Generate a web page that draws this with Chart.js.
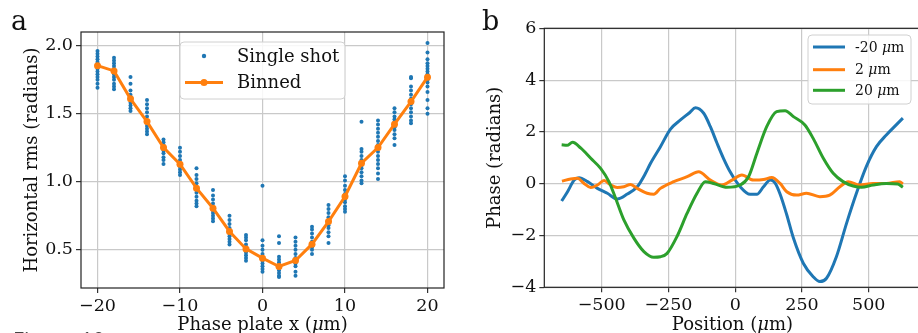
<!DOCTYPE html>
<html>
<head>
<meta charset="utf-8">
<script src="https://cdn.jsdelivr.net/npm/chart.js@4.4.0/dist/chart.umd.min.js"></script>
<style>
  html, body { margin: 0; padding: 0; background: #fff; overflow: hidden; width: 918px; height: 333px; }
  canvas { position: absolute; top: 0; }
  #left { left: 0; }
  #right { left: 460px; }
  #caption { position: absolute; left: 13px; top: 330px; font: 21px "Noto Sans"; line-height: 20px; color: #444; }
</style>
</head>
<body>
<canvas id="left" width="460" height="350"></canvas>
<canvas id="right" width="480" height="350"></canvas>
<div id="caption">Figure 10</div>
<script>
// ---- panel a: horizontal rms vs phase plate position ----
const plateX = [-20, -18, -16, -14, -12, -10, -8, -6, -4, -2, 0, 2, 4, 6, 8, 10, 12, 14, 16, 18, 20];
const binnedRms = [1.853, 1.814, 1.609, 1.442, 1.251, 1.129, 0.953, 0.806, 0.635, 0.507, 0.439,
                   0.378, 0.422, 0.542, 0.708, 0.892, 1.136, 1.251, 1.423, 1.589, 1.768];
// single-shot values, one list per plate position
const singleShots = [
  [1.96, 1.94, 1.92, 1.90, 1.88, 1.86, 1.85, 1.83, 1.81, 1.79, 1.77, 1.75, 1.72, 1.69],
  [1.91, 1.89, 1.87, 1.85, 1.83, 1.81, 1.79, 1.77, 1.75, 1.72, 1.70, 1.68],
  [1.77, 1.72, 1.67, 1.64, 1.62, 1.60, 1.58, 1.56, 1.54, 1.52],
  [1.60, 1.57, 1.54, 1.51, 1.48, 1.45, 1.43, 1.41, 1.39, 1.37, 1.35],
  [1.31, 1.29, 1.27, 1.25, 1.23, 1.21, 1.18, 1.16, 1.13],
  [1.25, 1.22, 1.19, 1.16, 1.13, 1.11, 1.09, 1.07, 1.05],
  [1.10, 1.05, 1.02, 0.99, 0.96, 0.94, 0.92, 0.89, 0.86, 0.84, 0.82],
  [0.94, 0.90, 0.87, 0.84, 0.81, 0.79, 0.77, 0.75, 0.73, 0.71],
  [0.75, 0.72, 0.69, 0.66, 0.64, 0.62, 0.60, 0.58, 0.56, 0.54],
  [0.61, 0.59, 0.57, 0.54, 0.52, 0.50, 0.48, 0.46, 0.44, 0.42],
  [0.97, 0.57, 0.53, 0.50, 0.47, 0.44, 0.42, 0.40, 0.38, 0.36, 0.34],
  [0.60, 0.55, 0.45, 0.43, 0.41, 0.39, 0.37, 0.35, 0.33, 0.31, 0.30],
  [0.59, 0.56, 0.53, 0.50, 0.47, 0.44, 0.42, 0.40, 0.38, 0.34, 0.31],
  [0.67, 0.65, 0.62, 0.59, 0.56, 0.54, 0.52, 0.50, 0.47],
  [0.83, 0.80, 0.77, 0.74, 0.72, 0.70, 0.68, 0.66, 0.63, 0.60, 0.55],
  [1.04, 1.01, 0.97, 0.94, 0.91, 0.89, 0.87, 0.85, 0.82, 0.80, 0.78],
  [1.44, 1.24, 1.22, 1.19, 1.16, 1.14, 1.12, 1.10, 1.07, 1.04, 1.01, 0.99],
  [1.45, 1.42, 1.39, 1.36, 1.33, 1.30, 1.27, 1.25, 1.22, 1.19, 1.16, 1.13, 1.10, 1.06, 1.02],
  [1.54, 1.51, 1.48, 1.46, 1.44, 1.42, 1.40, 1.38, 1.35, 1.32, 1.27],
  [1.77, 1.76, 1.70, 1.67, 1.64, 1.61, 1.59, 1.57, 1.54, 1.51, 1.48, 1.45, 1.43],
  [2.02, 1.95, 1.90, 1.87, 1.85, 1.83, 1.81, 1.79, 1.77, 1.75, 1.73, 1.70, 1.66, 1.60, 1.54, 1.50]
];
const ticksAx = [-20, -10, 0, 10, 20];
const ticksAy = [0.5, 1.0, 1.5, 2.0];

// ---- panel b: phase profiles ----
const posNeg20 = [-650, -628, -603, -585, -553, -516, -479, -442, -404, -367, -336, -317, -280, -243, -205, -170,
                  -149, -118, -93, -68, -44, -19, 19, 56, 81, 106, 131, 149, 168, 193, 218, 255, 292, 317, 342,
                  379, 417, 454, 491, 529, 566, 603, 628];
const phaseNeg20 = [-0.67, -0.31, 0.14, 0.23, 0.08, -0.18, -0.37, -0.59, -0.40, -0.12, 0.40, 0.79, 1.43, 2.10, 2.46, 2.75,
                    2.93, 2.72, 2.20, 1.56, 0.98, 0.46, -0.12, -0.41, -0.41, -0.12, 0.14, 0.03, -0.40, -1.20, -2.10, -3.07, -3.59, -3.78, -3.65,
                    -2.82, -1.53, -0.37, 0.66, 1.43, 1.88, 2.27, 2.53];
const pos2 = [-649, -616, -591, -566, -541, -516, -491, -466, -442, -417, -392, -367, -330, -305, -280, -230, -180,
              -137, -93, -50, -12, 25, 68, 106, 137, 168, 193, 230, 267, 317, 354, 392, 423, 466, 516, 566, 616, 628];
const phase2 = [0.10, 0.18, 0.21, 0.01, -0.15, -0.05, 0.12, -0.05, -0.15, -0.12, -0.03, -0.18, -0.37, -0.41, -0.18, 0.08, 0.27,
                0.46, 0.14, -0.05, 0.14, 0.34, 0.14, 0.16, 0.24, 0.01, -0.31, -0.44, -0.37, -0.50, -0.44, -0.12, 0.08, -0.05, 0.01, 0.01, 0.08, -0.01];
const pos20 = [-650, -630, -609, -578, -541, -504, -473, -448, -417, -379, -342, -305, -280, -255, -218, -180, -143,
               -112, -81, -31, 19, 50, 81, 118, 155, 187, 218, 261, 292, 330, 367, 404, 442, 473, 516, 566, 609, 628];
const phase20 = [1.50, 1.48, 1.60, 1.37, 0.98, 0.59, 0.08, -0.56, -1.40, -2.11, -2.62, -2.84, -2.82, -2.69, -2.04, -1.14, -0.37,
                 0.08, 0.01, -0.14, -0.05, 0.27, 1.17, 2.20, 2.78, 2.82, 2.59, 2.27, 1.75, 0.98, 0.40, 0.08, -0.09, -0.14, -0.05, 0.01, -0.01, -0.14];
const ticksBx = [-500, -250, 0, 250, 500];
const ticksBy = [-4, -2, 0, 2, 4, 6];

const BLUE = '#1f77b4', ORANGE = '#ff7f0e', GREEN = '#2ca02c';
const FAMILY = '"DejaVu Serif", serif';
const H = 350;

Chart.defaults.font.family = FAMILY;
Chart.defaults.color = '#111';

const minus = s => String(s).replace('-', '\u2212');
const pts = (xs, ys) => xs.map((x, i) => ({ x: x, y: ys[i] }));

// text made of runs, some italic (for the mu in micrometre)
function richWidth(ctx, runs, size) {
  let w = 0;
  runs.forEach(r => { ctx.font = (r[1] ? 'italic ' : '') + size + 'px ' + FAMILY; w += ctx.measureText(r[0]).width; });
  return w;
}
function drawRich(ctx, runs, x, y, size, align) {
  let cx = align === 'center' ? x - richWidth(ctx, runs, size) / 2 : x;
  ctx.textAlign = 'left';
  runs.forEach(r => {
    ctx.font = (r[1] ? 'italic ' : '') + size + 'px ' + FAMILY;
    ctx.fillText(r[0], cx, y);
    cx += ctx.measureText(r[0]).width;
  });
}

// frame, panel letter, axis titles and legend box
const panel = {
  id: 'panel',
  afterDatasetsDraw(chart, args, o) {
    const { ctx, chartArea: a } = chart;
    ctx.save();
    ctx.strokeStyle = '#222';
    ctx.lineWidth = 1.2;
    ctx.strokeRect(a.left, a.top, a.right - a.left, a.bottom - a.top);
    ctx.restore();
  },
  afterDraw(chart, args, o) {
    const { ctx, chartArea: a } = chart;
    ctx.save();
    ctx.fillStyle = '#111';
    ctx.textBaseline = 'alphabetic';
    ctx.font = o.letterSize + 'px ' + FAMILY;
    ctx.fillText(o.letter, o.letterX, o.letterY);

    drawRich(ctx, o.xTitle, (a.left + a.right) / 2, o.xTitleY, o.titleSize, 'center');
    ctx.save();
    ctx.translate(o.yTitleX, (a.top + a.bottom) / 2);
    ctx.rotate(-Math.PI / 2);
    ctx.textBaseline = 'middle';
    drawRich(ctx, o.yTitle, 0, 0, o.titleSize, 'center');
    ctx.restore();

    // legend
    const L = o.legend;
    ctx.beginPath();
    ctx.roundRect(L.x, L.y, L.w, L.h, 4);
    ctx.fillStyle = 'rgba(255,255,255,0.85)';
    ctx.fill();
    ctx.strokeStyle = '#d0d0d0';
    ctx.lineWidth = 1;
    ctx.stroke();
    ctx.textBaseline = 'middle';
    L.rows.forEach(r => {
      if (r.line) {
        ctx.beginPath();
        ctx.moveTo(L.x0, r.y);
        ctx.lineTo(L.x1, r.y);
        ctx.strokeStyle = r.color;
        ctx.lineWidth = r.lineWidth;
        ctx.stroke();
      }
      if (r.dot) {
        ctx.beginPath();
        ctx.arc((L.x0 + L.x1) / 2, r.y, r.dot, 0, Math.PI * 2);
        ctx.fillStyle = r.color;
        ctx.fill();
      }
      ctx.fillStyle = '#111';
      drawRich(ctx, r.text, L.tx, r.y + 1, L.size, 'left');
    });
    ctx.restore();
  }
};

const grid = { color: '#c9c9c9', lineWidth: 1.2, tickColor: '#333', tickLength: 5, tickWidth: 1.2 };
const tickFont = { size: 17.5 };

// panel a
const shotPoints = [];
plateX.forEach((x, i) => singleShots[i].forEach(v => shotPoints.push({ x: x, y: v })));

new Chart(document.getElementById('left'), {
  type: 'scatter',
  data: {
    datasets: [
      { label: 'Binned', type: 'line', data: pts(plateX, binnedRms), borderColor: ORANGE, backgroundColor: ORANGE,
        borderWidth: 3, pointRadius: 3.5, pointBorderWidth: 0, order: 0 },
      { label: 'Single shot', data: shotPoints, backgroundColor: BLUE, pointBorderWidth: 0, pointRadius: 2, order: 1 }
    ]
  },
  options: {
    responsive: false, animation: false, devicePixelRatio: 1,
    layout: { padding: { top: 32, right: 16, left: 0, bottom: 0 } },
    plugins: {
      legend: { display: false }, tooltip: { enabled: false },
      panel: {
        letter: 'a', letterX: 11, letterY: 30, letterSize: 27,
        xTitle: [['Phase plate x (', false], ['\u03bc', true], ['m)', false]], xTitleY: 330,
        yTitle: [['Horizontal rms (radians)', false]], yTitleX: 32.5, titleSize: 18,
        legend: { x: 180, y: 42, w: 165, h: 57, x0: 185, x1: 223, tx: 237, size: 18,
          rows: [
            { y: 56, color: BLUE, dot: 2.2, text: [['Single shot', false]] },
            { y: 82.5, color: ORANGE, line: true, lineWidth: 3, dot: 3.5, text: [['Binned', false]] }
          ] }
      }
    },
    scales: {
      x: { type: 'linear', min: -22, max: 22, grid: grid, border: { display: false },
        afterBuildTicks: s => { s.ticks = ticksAx.map(v => ({ value: v })); },
        afterFit: s => { s.height = H - 288; },
        ticks: { font: tickFont, padding: 3, maxRotation: 0, callback: v => minus(v) } },
      y: { type: 'linear', min: 0.22, max: 2.10, grid: grid, border: { display: false },
        afterBuildTicks: s => { s.ticks = ticksAy.map(v => ({ value: v })); },
        afterFit: s => { s.width = 81; },
        ticks: { font: tickFont, padding: 3, callback: v => v.toFixed(1) } }
    }
  },
  plugins: [panel]
});

// panel b
new Chart(document.getElementById('right'), {
  type: 'line',
  data: {
    datasets: [
      { label: '-20 \u03bcm', data: pts(posNeg20, phaseNeg20), borderColor: BLUE, order: 2 },
      { label: '2 \u03bcm', data: pts(pos2, phase2), borderColor: ORANGE, order: 1 },
      { label: '20 \u03bcm', data: pts(pos20, phase20), borderColor: GREEN, order: 0 }
    ].map(d => Object.assign(d, { borderWidth: 3, pointRadius: 0, cubicInterpolationMode: 'monotone', fill: false }))
  },
  options: {
    responsive: false, animation: false, devicePixelRatio: 1,
    layout: { padding: { top: 28.3, right: 19.5, left: 0, bottom: 0 } },
    plugins: {
      legend: { display: false }, tooltip: { enabled: false },
      panel: {
        letter: 'b', letterX: 22, letterY: 30, letterSize: 27,
        xTitle: [['Position (', false], ['\u03bc', true], ['m)', false]], xTitleY: 330,
        yTitle: [['Phase (radians)', false]], yTitleX: 35.5, titleSize: 18,
        legend: { x: 348, y: 35, w: 103, h: 69, x0: 353, x1: 385, tx: 395, size: 14,
          rows: [
            { y: 47, color: BLUE, line: true, lineWidth: 3, text: [['-20 ', false], ['\u03bc', true], ['m', false]] },
            { y: 69.7, color: ORANGE, line: true, lineWidth: 3, text: [['2 ', false], ['\u03bc', true], ['m', false]] },
            { y: 90.3, color: GREEN, line: true, lineWidth: 3, text: [['20 ', false], ['\u03bc', true], ['m', false]] }
          ] }
      }
    },
    scales: {
      x: { type: 'linear', min: -715, max: 694, grid: grid, border: { display: false },
        afterBuildTicks: s => { s.ticks = ticksBx.map(v => ({ value: v })); },
        afterFit: s => { s.height = H - 287.3; },
        ticks: { font: tickFont, padding: 3, maxRotation: 0, callback: v => minus(v) } },
      y: { type: 'linear', min: -4, max: 6, grid: grid, border: { display: false },
        afterBuildTicks: s => { s.ticks = ticksBy.map(v => ({ value: v })); },
        afterFit: s => { s.width = 84.3; },
        ticks: { font: tickFont, padding: 3, callback: v => minus(v) } }
    }
  },
  plugins: [panel]
});
</script>
</body>
</html>
